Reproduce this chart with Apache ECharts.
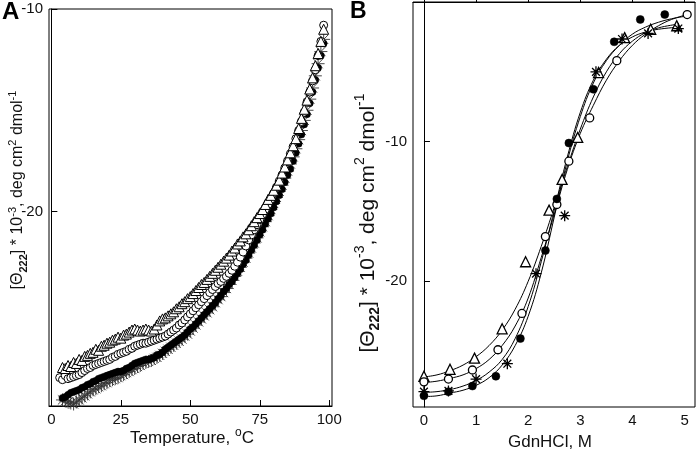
<!DOCTYPE html>
<html>
<head>
<meta charset="utf-8">
<script src="https://cdn.jsdelivr.net/npm/echarts@6/dist/echarts.min.js"></script>
<style>html,body{margin:0;padding:0;background:#fff;}#c{width:697px;height:452px;}</style>
</head>
<body>
<div id="c"></div>
<script>
// ---------- Panel A: temperature scans ----------
var tempTri = [4,5,6,7,8,9,10,11,12,13,14,15,16,17,18,19,20,21,22,23,24,25,26,27,28,29,30,31,32,33,34,35,36,37,38,39,40,41,42,43,44,45,46,47,48,49,50,51,52,53,54,55,56,57,58,59,60,61,62,63,64,65,66,67,68,69,70,71,72,73,74,75,76,77,78,79,80,81,82,83,84,85,86,87,88,89,90,91,92,93,94,95,96,97,98];
var thetaTri = [-27.7,-27.75,-27.6,-27.65,-27.45,-27.5,-27.3,-27.35,-27.15,-27.1,-27.0,-26.95,-26.8,-26.85,-26.65,-26.6,-26.5,-26.45,-26.35,-26.3,-26.2,-26.25,-26.1,-26.05,-25.95,-25.85,-25.8,-25.85,-25.9,-25.85,-25.8,-25.85,-25.9,-25.8,-25.6,-25.4,-25.3,-25.25,-25.15,-25.05,-24.95,-24.8,-24.7,-24.55,-24.45,-24.3,-24.2,-24.05,-23.9,-23.75,-23.6,-23.5,-23.35,-23.2,-23.05,-22.9,-22.75,-22.6,-22.45,-22.3,-22.15,-21.95,-21.8,-21.6,-21.45,-21.25,-21.1,-20.9,-20.7,-20.5,-20.3,-20.1,-19.9,-19.65,-19.4,-19.2,-18.95,-18.7,-18.45,-18.1,-17.8,-17.45,-17.1,-16.75,-16.4,-15.9,-15.4,-14.95,-14.5,-13.95,-13.4,-12.8,-12.2,-11.6,-11.0];

var tempCirc = [3,4,5,6,7,8,9,10,11,12,13,14,15,16,17,18,19,20,21,22,23,24,25,26,27,28,29,30,31,32,33,34,35,36,37,38,39,40,41,42,43,44,45,46,47,48,49,50,51,52,53,54,55,56,57,58,59,60,61,62,63,64,65,66,67,68,69,70,71,72,73,74,75,76,77,78,79,80,81,82,83,84,85,86,87,88,89,90,91,92,93,94,95,96,97,98];
var thetaCirc = [-28.2,-28.3,-28.1,-28.25,-28.2,-28.15,-28.1,-28.05,-27.95,-27.85,-27.75,-27.7,-27.6,-27.55,-27.5,-27.45,-27.4,-27.35,-27.3,-27.2,-27.15,-27.05,-27.0,-26.95,-26.9,-26.8,-26.75,-26.65,-26.6,-26.55,-26.5,-26.5,-26.45,-26.4,-26.35,-26.3,-26.25,-26.2,-26.15,-26.05,-25.95,-25.85,-25.75,-25.6,-25.5,-25.35,-25.2,-25.05,-24.9,-24.75,-24.6,-24.45,-24.3,-24.15,-24.0,-23.85,-23.7,-23.55,-23.45,-23.3,-23.2,-23.05,-22.9,-22.7,-22.5,-22.25,-22.0,-21.7,-21.4,-21.15,-20.9,-20.65,-20.4,-20.15,-19.9,-19.65,-19.4,-19.1,-18.8,-18.5,-18.2,-17.85,-17.5,-17.15,-16.8,-16.4,-16.0,-15.55,-15.1,-14.6,-14.1,-13.55,-13.0,-12.3,-11.6,-10.8];

var tempFill = [4,5,6,7,8,9,10,11,12,13,14,15,16,17,18,19,20,21,22,23,24,25,26,27,28,29,30,31,32,33,34,35,36,37,38,39,40,41,42,43,44,45,46,47,48,49,50,51,52,53,54,55,56,57,58,59,60,61,62,63,64,65,66,67,68,69,70,71,72,73,74,75,76,77,78,79,80,81,82,83,84,85,86,87,88,89,90,91,92,93,94,95,96,97,98];
var thetaFill = [-29.2,-29.15,-29.05,-28.95,-28.9,-28.85,-28.8,-28.7,-28.65,-28.55,-28.5,-28.4,-28.35,-28.25,-28.2,-28.15,-28.1,-28.05,-28.0,-27.95,-27.9,-27.9,-27.85,-27.75,-27.7,-27.6,-27.5,-27.45,-27.4,-27.35,-27.3,-27.3,-27.25,-27.2,-27.1,-27.05,-26.95,-26.8,-26.7,-26.6,-26.5,-26.4,-26.3,-26.2,-26.1,-25.95,-25.8,-25.7,-25.55,-25.4,-25.25,-25.1,-24.95,-24.8,-24.65,-24.5,-24.3,-24.15,-23.95,-23.8,-23.6,-23.45,-23.25,-23.05,-22.85,-22.6,-22.4,-22.15,-21.9,-21.65,-21.4,-21.15,-20.9,-20.6,-20.35,-20.1,-19.8,-19.5,-19.2,-18.9,-18.55,-18.2,-17.9,-17.5,-17.1,-16.65,-16.2,-15.7,-15.2,-14.65,-14.1,-13.5,-12.9,-12.3,-11.7];

var tempStar = [4,5,6,7,8,9,10,11,12,13,14,15,16,17,18,19,20,21,22,23,24,25,26,27,28,29,30,31,32,33,34,35,36,37,38,39,40,41,42,43,44,45,46,47,48,49,50,51,52,53,54,55,56,57,58,59,60,61,62,63,64,65,66,67,68,69,70,71,72,73,74,75,76,77,78,79,80,81,82,83,84,85,86,87,88,89,90,91,92,93,94,95,96,97,98];
var thetaStar = [-29.3,-29.35,-29.4,-29.45,-29.5,-29.4,-29.3,-29.2,-29.1,-29.0,-28.9,-28.8,-28.75,-28.65,-28.6,-28.5,-28.45,-28.35,-28.3,-28.25,-28.2,-28.1,-28.05,-27.95,-27.9,-27.8,-27.75,-27.65,-27.6,-27.5,-27.45,-27.4,-27.35,-27.25,-27.2,-27.1,-27.0,-26.9,-26.8,-26.7,-26.6,-26.5,-26.4,-26.3,-26.15,-26.05,-25.9,-25.75,-25.6,-25.45,-25.3,-25.15,-25.0,-24.85,-24.7,-24.5,-24.35,-24.2,-24.0,-23.8,-23.6,-23.4,-23.2,-22.95,-22.75,-22.5,-22.3,-22.05,-21.8,-21.55,-21.3,-21.0,-20.75,-20.5,-20.2,-19.9,-19.6,-19.3,-19.0,-18.7,-18.35,-18.0,-17.65,-17.3,-16.9,-16.45,-16.0,-15.5,-15.0,-14.45,-13.9,-13.3,-12.7,-12.1,-11.5];

var ticksTempX = [0,25,50,75,100];
var ticksTempY = [-20,-10];

// ---------- Panel B: GdnHCl denaturation ----------
var gdnTri = [0,0.5,0.97,1.5,1.95,2.4,2.65,2.95,3.35,3.85,4.35,4.85];
var valTri = [-26.8,-26.3,-25.5,-23.4,-18.6,-14.9,-12.7,-9.7,-5.05,-2.55,-1.95,-1.7];
var gdnCirc = [0,0.47,0.93,1.42,1.88,2.33,2.55,2.78,3.18,3.7,5.05];
var valCirc = [-27.2,-27.0,-26.35,-24.9,-22.3,-16.8,-14.5,-11.4,-8.3,-4.2,-0.9];
var gdnFill = [0,0.47,0.93,1.38,1.85,2.33,2.55,2.78,3.25,3.65,4.15,4.62];
var valFill = [-28.2,-27.9,-27.5,-26.8,-24.1,-17.8,-14.1,-10.1,-6.25,-2.85,-1.25,-0.9];
var gdnStar = [0,0.47,1.0,1.6,2.15,2.7,3.3,3.8,4.3,4.88];
var valStar = [-27.9,-27.85,-27.0,-25.9,-19.45,-15.3,-5.0,-2.65,-2.25,-1.9];

// fitted curves
var fitTriX = [0,0.25,0.5,0.75,1,1.25,1.5,1.75,2,2.25,2.5,2.75,3,3.25,3.5,3.75,4,4.25,4.5,4.85];
var fitTriY = [-26.85,-26.7,-26.4,-26.0,-25.4,-24.6,-23.5,-22.0,-20.0,-17.5,-14.7,-11.8,-9.1,-6.8,-5.0,-3.7,-2.8,-2.2,-1.85,-1.6];
var fitCircX = [0,0.25,0.5,0.75,1,1.25,1.5,1.75,2,2.25,2.5,2.75,3,3.25,3.5,3.75,4,4.25,4.5,4.75,5.05];
var fitCircY = [-27.25,-27.15,-26.95,-26.7,-26.25,-25.6,-24.6,-23.2,-21.2,-18.3,-15.2,-12.0,-9.4,-7.4,-5.6,-4.2,-3.1,-2.3,-1.7,-1.25,-0.9];
var fitFillX = [0,0.25,0.5,0.75,1,1.25,1.5,1.75,2,2.25,2.5,2.75,3,3.25,3.5,3.75,4,4.25,4.5,4.75,5.05];
var fitFillY = [-28.25,-28.2,-28.0,-27.8,-27.45,-26.9,-26.0,-24.6,-22.5,-19.4,-15.4,-11.4,-8.2,-5.8,-4.2,-3.1,-2.3,-1.8,-1.45,-1.2,-1.0];
var fitStarX = [0,0.25,0.5,0.75,1,1.25,1.5,1.75,2,2.25,2.5,2.75,3,3.25,3.5,3.75,4,4.25,4.5,4.88];
var fitStarY = [-27.95,-27.9,-27.75,-27.5,-27.1,-26.5,-25.6,-24.1,-21.8,-18.6,-14.9,-11.1,-7.9,-5.6,-4.1,-3.1,-2.5,-2.15,-1.95,-1.8];

var ticksGdnX = [0,1,2,3,4,5];
var ticksGdnY = [-20,-10];

function pairs(xs, ys) { return xs.map(function (x, i) { return [x, ys[i]]; }); }

var FONT = 'Liberation Sans, Arial, sans-serif';
var STAR = 'path://M5,0L5,10M0,5L10,5M1.46,1.46L8.54,8.54M1.46,8.54L8.54,1.46';

function axisCommon(vals) {
  return {
    type: 'value',
    axisLine: { show: true, lineStyle: { color: '#000', width: 1 } },
    axisTick: { show: true, inside: true, length: 6, customValues: vals, lineStyle: { color: '#000', width: 1 } },
    axisLabel: { customValues: vals, color: '#111', fontSize: 15, fontFamily: FONT, margin: 6 },
    splitLine: { show: false }
  };
}

function scat(name, data, xi, sym, size, fill, stroke, bw, z) {
  return {
    type: 'scatter', name: name, xAxisIndex: xi, yAxisIndex: xi, data: data,
    symbol: sym, symbolSize: size, z: z, silent: true,
    itemStyle: { color: fill, borderColor: stroke, borderWidth: bw, opacity: 1 }
  };
}
function fitLine(data) {
  return {
    type: 'line', xAxisIndex: 1, yAxisIndex: 1, data: data, smooth: 0.4,
    showSymbol: false, silent: true, z: 1,
    lineStyle: { color: '#000', width: 1 }
  };
}

function yTitleRich(fs, ss) {
  return {
    b: { fontSize: fs, fontFamily: FONT, lineHeight: Math.round(fs * 1.4), verticalAlign: 'middle', fill: '#111' },
    sub: { fontSize: ss, fontFamily: FONT, fontWeight: 'bold', verticalAlign: 'bottom', lineHeight: ss, fill: '#111' },
    sup: { fontSize: ss, fontFamily: FONT, verticalAlign: 'top', lineHeight: ss, fill: '#111' }
  };
}
var yTitleText = '{b|[Θ}{sub|222}{b|] * 10}{sup|-3}{b|, deg cm}{sup|2}{b| dmol}{sup|-1}';

var option = {
  animation: false,
  backgroundColor: '#fff',
  grid: [
    { left: 49, top: 9, width: 283, height: 397, show: true, borderColor: '#000', borderWidth: 1, containLabel: false },
    { left: 413, top: 2, width: 282, height: 405, show: true, borderColor: '#000', borderWidth: 1, containLabel: false }
  ],
  xAxis: [
    Object.assign(axisCommon(ticksTempX), { gridIndex: 0, min: -0.85, max: 101 }),
    Object.assign(axisCommon(ticksGdnX), { gridIndex: 1, min: -0.21, max: 5.2 })
  ],
  yAxis: [
    Object.assign(axisCommon(ticksTempY), { gridIndex: 0, min: -29.6, max: -10 }),
    Object.assign(axisCommon(ticksGdnY), { gridIndex: 1, min: -29, max: 0 })
  ],
  graphic: [
    { type: 'text', left: 2, top: 0, style: { text: 'A', font: 'bold 24px ' + FONT, fill: '#000' } },
    { type: 'text', left: 350, top: 0, style: { text: 'B', font: 'bold 23px ' + FONT, fill: '#000' } },
    { type: 'text', x: 18, y: 190, rotation: Math.PI / 2,
      style: { text: yTitleText, rich: yTitleRich(16, 11), fill: '#111', font: '16px ' + FONT, align: 'center', verticalAlign: 'middle' } },
    { type: 'text', x: 368, y: 223, rotation: Math.PI / 2,
      style: { text: yTitleText, rich: yTitleRich(21, 14), fill: '#111', font: '21px ' + FONT, align: 'center', verticalAlign: 'middle' } },
    { type: 'text', x: 192, y: 438,
      style: { text: '{b|Temperature, }{sup|o}{b|C}', rich: {
        b: { fontSize: 17, fontFamily: FONT, lineHeight: 22, fill: '#111' },
        sup: { fontSize: 12, fontFamily: FONT, verticalAlign: 'top', lineHeight: 12, fill: '#111' } },
        align: 'center', verticalAlign: 'middle' } },
    { type: 'text', x: 550, y: 442,
      style: { text: 'GdnHCl, M', font: '17px ' + FONT, fill: '#111', align: 'center', verticalAlign: 'middle' } }
  ],
  series: [
    scat('starA', pairs(tempStar, thetaStar), 0, STAR, 13, 'rgba(0,0,0,0)', '#333', 0.9, 2),
    scat('fillA', pairs(tempFill, thetaFill), 0, 'circle', 7, '#000', '#000', 0.5, 3),
    scat('circA', pairs(tempCirc, thetaCirc), 0, 'circle', 8, '#fff', '#000', 1, 4),
    scat('triA', pairs(tempTri, thetaTri), 0, 'triangle', 10, '#fff', '#000', 1, 5),

    fitLine(pairs(fitTriX, fitTriY)),
    fitLine(pairs(fitCircX, fitCircY)),
    fitLine(pairs(fitFillX, fitFillY)),
    fitLine(pairs(fitStarX, fitStarY)),
    scat('triB', pairs(gdnTri, valTri), 1, 'triangle', 10, '#fff', '#000', 1.3, 5),
    scat('circB', pairs(gdnCirc, valCirc), 1, 'circle', 8, '#fff', '#000', 1.3, 5),
    scat('fillB', pairs(gdnFill, valFill), 1, 'circle', 8, '#000', '#000', 0.5, 5),
    scat('starB', pairs(gdnStar, valStar), 1, STAR, 11, 'rgba(0,0,0,0)', '#000', 1.3, 5)
  ]
};

var chart = echarts.init(document.getElementById('c'), null, { renderer: 'canvas' });
chart.setOption(option);
</script>
</body>
</html>
